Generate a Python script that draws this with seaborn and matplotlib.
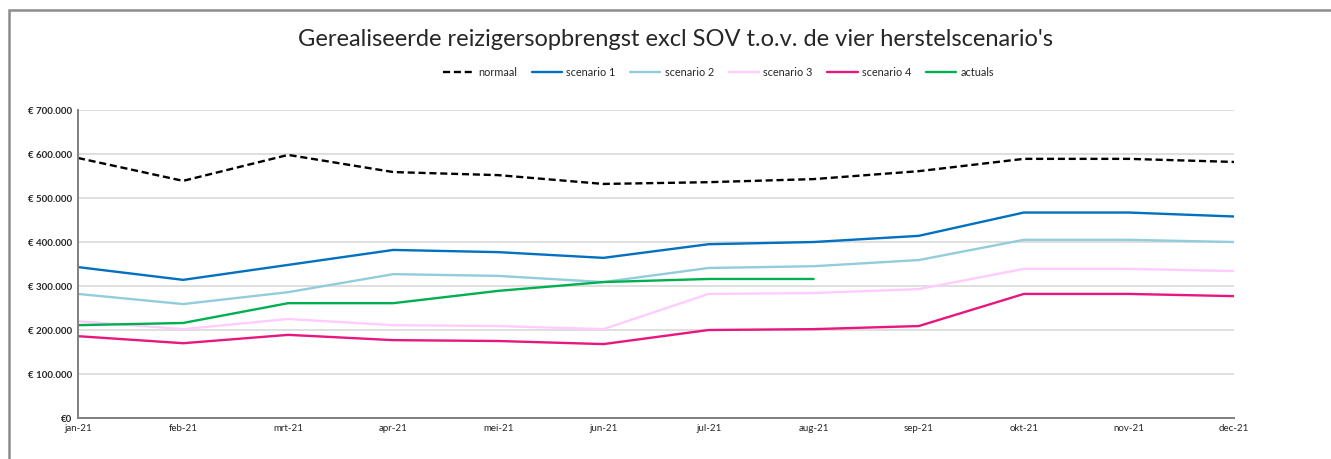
import numpy as np
import pandas as pd
import matplotlib
matplotlib.use("Agg")
import matplotlib.pyplot as plt
import seaborn as sns
from matplotlib.patches import Rectangle
from matplotlib.ticker import FuncFormatter

# ------------------------------------------------------------------
# data (in euros)
# ------------------------------------------------------------------
months = ['jan-21', 'feb-21', 'mrt-21', 'apr-21', 'mei-21', 'jun-21',
          'jul-21', 'aug-21', 'sep-21', 'okt-21', 'nov-21', 'dec-21']

normaal = [591000, 539000, 598000, 559000, 552000, 532000,
           536000, 543000, 561000, 589000, 589000, 582000]
scenario_1 = [343000, 314000, 348000, 382000, 377000, 364000,
              395000, 400000, 414000, 467000, 467000, 458000]
scenario_2 = [282000, 259000, 286000, 327000, 323000, 309000,
              341000, 345000, 359000, 405000, 405000, 400000]
scenario_3 = [220000, 202000, 225000, 211000, 209000, 202000,
              282000, 284000, 293000, 339000, 339000, 334000]
scenario_4 = [186000, 170000, 189000, 177000, 175000, 168000,
              200000, 202000, 209000, 282000, 282000, 277000]
actuals = [211000, 216000, 261000, 261000, 289000, 309000,
           316000, 316000]

series = {
    'normaal': normaal,
    'scenario 1': scenario_1,
    'scenario 2': scenario_2,
    'scenario 3': scenario_3,
    'scenario 4': scenario_4,
    'actuals': actuals,
}
colors = {
    'normaal': '#000000',
    'scenario 1': '#0070C0',
    'scenario 2': '#92CDDC',
    'scenario 3': '#FFCCFF',
    'scenario 4': '#E8177D',
    'actuals': '#00B050',
}

# ------------------------------------------------------------------
# plot
# ------------------------------------------------------------------
sns.set_style('white')
plt.rcParams['font.family'] = ['Lato', 'DejaVu Sans']

fig = plt.figure(figsize=(13.31, 4.59), dpi=100)
ax = fig.add_axes([0.0586, 0.0893, 0.8685, 0.671])

x_pos = np.arange(len(months))
for name, vals in series.items():
    style = (0, (3, 1.6)) if name == 'normaal' else '-'
    sns.lineplot(x=x_pos[:len(vals)], y=vals, ax=ax, color=colors[name],
                 linewidth=1.7, linestyle=style, label=name)

ax.set_xlim(0, len(months) - 1)
ax.set_ylim(0, 700000)
ax.set_xticks(x_pos)
ax.set_xticklabels(months, fontsize=7)
ax.set_yticks(np.arange(0, 700001, 100000))


def euro(v, _):
    if v == 0:
        return '€0'
    return '€ ' + f'{int(v):,}'.replace(',', '.')


ax.yaxis.set_major_formatter(FuncFormatter(euro))
ax.tick_params(axis='y', labelsize=7, pad=4, length=0)
ax.tick_params(axis='x', pad=4, length=0)
for lbl in ax.get_yticklabels():
    lbl.set_fontweight('bold')

ax.grid(axis='y', color='#D9D9D9', linewidth=1.2)
ax.set_axisbelow(True)
for side in ['top', 'right']:
    ax.spines[side].set_visible(False)
for side in ['left', 'bottom']:
    ax.spines[side].set_color('#808080')
    ax.spines[side].set_linewidth(1.4)
ax.set_xlabel('')
ax.set_ylabel('')

ax.legend(loc='upper center', bbox_to_anchor=(0.540, 0.875),
          bbox_transform=fig.transFigure, ncol=6, frameon=False,
          fontsize=7.8, handlelength=2.8, columnspacing=1.35, handletextpad=0.4)

fig.text(0.5075, 0.915, "Gerealiseerde reizigersopbrengst excl SOV t.o.v. de vier herstelscenario's",
         ha='center', va='center', fontsize=17)

# outer chart frame (only left and top edges visible in the crop)
fig.patches.append(Rectangle((9 / 1331, -0.1), 1.2, 0.1 + (459 - 10) / 459,
                             transform=fig.transFigure, fill=False,
                             edgecolor='#8C8C8C', linewidth=1.8))

fig.savefig('out.png', dpi=100)
